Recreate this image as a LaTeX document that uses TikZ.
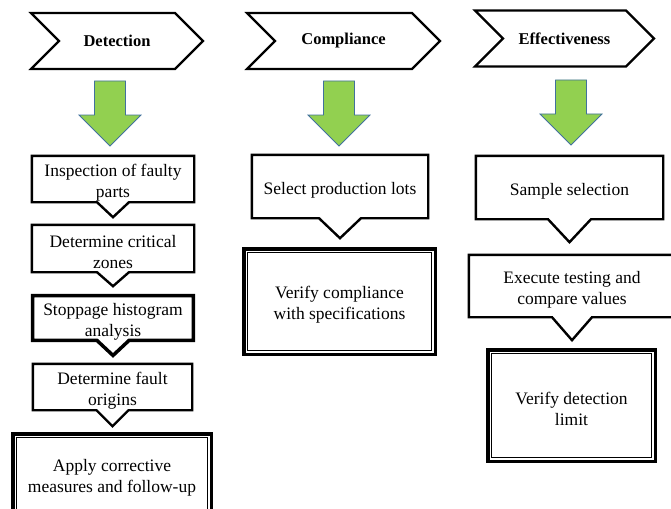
\documentclass[tikz,border=0pt]{standalone}
\usepackage{fontspec}
\setmainfont{Liberation Serif}
\usepackage{xcolor}
\usepackage{tikz}
\usetikzlibrary{shapes.symbols, calc}
\definecolor{arrowgreen}{HTML}{92D050}
\definecolor{arrowedge}{HTML}{41719C}
\newcommand{\lowstrut}{\rule{0pt}{19.5pt}}
\tikzstyle{title} = [shape=signal, signal to=east, signal from=west, draw, line width=2.2pt, font=\fontsize{16.5}{20}\selectfont\bfseries, minimum height=56pt, inner sep=0pt]
\tikzstyle{stepbox} = [rectangle, align=center, font=\fontsize{17.5}{21}\selectfont, inner sep=0pt]
\tikzstyle{endbox} = [stepbox, draw, line width=3.5pt]
\tikzstyle{greenarrow} = [fill=arrowgreen, draw=arrowedge, line width=0.8pt]

% outline of a box with a V pointing down: node, half width of the V, depth of the V, line width
\newcommand{\pointerbox}[4]{
	\draw[line width=#4] (#1.south west) -- (#1.north west) -- (#1.north east) -- (#1.south east)
		-- ($(#1.south)+(#2,0)$) -- ($(#1.south)+(0,#3)$) -- ($(#1.south)+(-#2,0)$) -- cycle;
}
% thin inner line of the double framed boxes
\newcommand{\innerframe}[1]{
	\draw[line width=1.3pt] ($(#1.south west)+(5.5,-5.5)$) rectangle ($(#1.north east)+(-5.5,5.5)$);
}
% big green arrow: x of the middle, y of the top
\newcommand{\bigarrow}[2]{
	\draw[greenarrow] (#1-15.5,#2) -- (#1+15.5,#2) -- (#1+15.5,#2+34) -- (#1+31,#2+34)
		-- (#1,#2+65) -- (#1-31,#2+34) -- (#1-15.5,#2+34) -- cycle;
}

\begin{document}
\begin{tikzpicture}[x=1pt,y=-1pt]
	\useasboundingbox (0,0) rectangle (671,508);
	\clip (0,0) rectangle (671,508);
	
	% Titles:
	\node[title, minimum width=172pt] (detection) at (117,41) {Detection};
	\node[title, minimum width=193pt] (compliance) at (343.5,41) {Compliance};
	\node[title, minimum width=179pt] (effective) at (564.5,38.5) {Effectiveness};
	
	% Green arrows below the titles:
	\bigarrow{110}{81}
	\bigarrow{339}{81}
	\bigarrow{571}{80}
	
	% Detection column:
	\node[stepbox, minimum width=162pt, minimum height=46pt] (inspect) at (113,179) {\lowstrut Inspection of faulty\\parts};
	\node[stepbox, minimum width=162pt, minimum height=47pt] (zones) at (113,248.5) {\lowstrut Determine critical\\zones};
	\node[stepbox, minimum width=160.5pt, minimum height=44.5pt] (histo) at (113,318) {\lowstrut Stoppage histogram\\analysis};
	\node[stepbox, minimum width=159pt, minimum height=46pt] (origins) at (112.5,387) {\lowstrut Determine fault\\origins};
	\node[endbox, minimum width=198.5pt, minimum height=80pt] (apply) at (112,474) {\lowstrut Apply corrective\\measures and follow-up};
	
	\pointerbox{inspect}{16}{15}{2.4pt}
	\pointerbox{zones}{16}{14}{2.4pt}
	\pointerbox{histo}{16}{15}{3.5pt}
	\pointerbox{origins}{16}{16}{2.4pt}
	\innerframe{apply}
	
	% Compliance column:
	\node[stepbox, minimum width=176pt, minimum height=63pt] (lots) at (340,186.5) {\lowstrut Select production lots};
	\node[endbox, minimum width=191.5pt, minimum height=105.5pt] (verifyspec) at (339.5,301.5) {\lowstrut Verify compliance\\with specifications};
	
	\pointerbox{lots}{21}{20}{2.4pt}
	\innerframe{verifyspec}
	
	% Effectiveness column:
	\node[stepbox, minimum width=187pt, minimum height=63pt] (sample) at (569.5,187.5) {\lowstrut Sample selection};
	\node[stepbox, minimum width=206pt, minimum height=62pt] (testing) at (572,286) {\lowstrut Execute testing and\\compare values};
	\node[endbox, minimum width=167.5pt, minimum height=111.5pt] (limit) at (571.5,405.5) {\lowstrut Verify detection\\limit};
	
	\pointerbox{sample}{21.5}{23}{2.4pt}
	\pointerbox{testing}{20}{23}{2.4pt}
	\innerframe{limit}
	
\end{tikzpicture}
\end{document}
